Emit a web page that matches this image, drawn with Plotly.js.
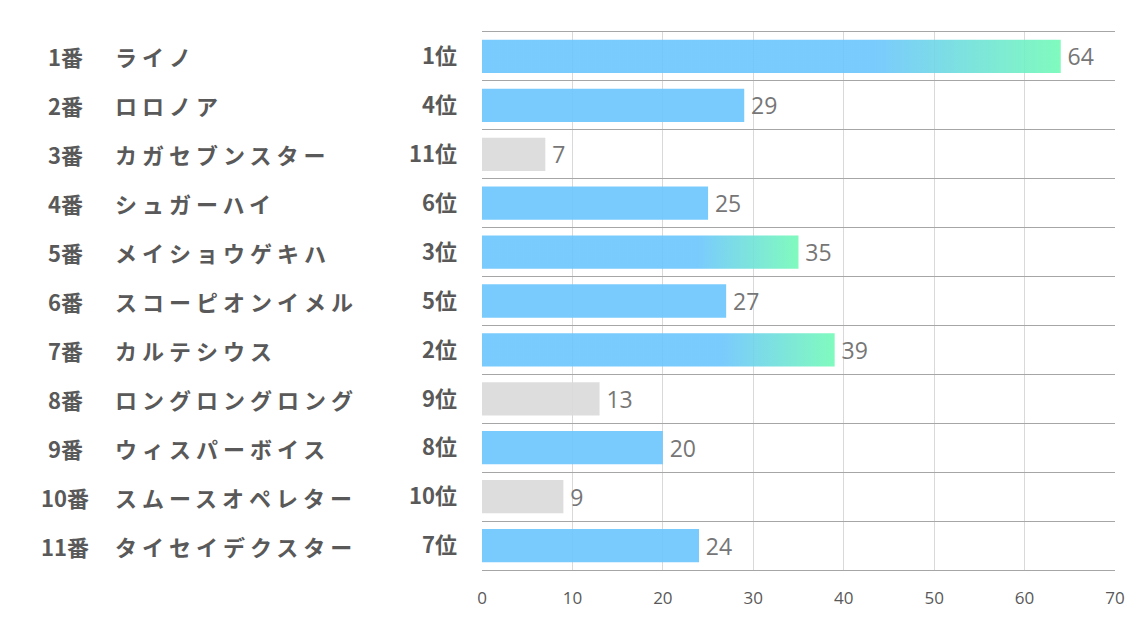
<!DOCTYPE html>
<html>
<head>
<meta charset="utf-8">
<script src="https://cdn.plot.ly/plotly-3.0.1.min.js"></script>
<style>
  body { margin: 0; background: #fff; }
  #chart { width: 1134px; height: 623px; }
</style>
</head>
<body>
<div id="chart"></div>
<script>
// 馬番・馬名・順位・値
const horseNo = ['1番', '2番', '3番', '4番', '5番', '6番', '7番', '8番', '9番', '10番', '11番'];
const horseName = ['ライノ', 'ロロノア', 'カガセブンスター', 'シュガーハイ', 'メイショウゲキハ',
  'スコーピオンイメル', 'カルテシウス', 'ロングロングロング', 'ウィスパーボイス', 'スムースオペレター', 'タイセイデクスター'];
const rankLabel = ['1位', '4位', '11位', '6位', '3位', '5位', '2位', '9位', '8位', '10位', '7位'];
const rankNum = [1, 4, 11, 6, 3, 5, 2, 9, 8, 10, 7];
const scores = [64, 29, 7, 25, 35, 27, 39, 13, 20, 9, 24];

const BLUE = 'rgb(107,197,253)';
const GRAY = 'rgb(217,217,217)';
const barColors = rankNum.map(r => r >= 9 ? GRAY : BLUE);

const jpFont = '"Noto Sans CJK JP", "Noto Sans", sans-serif';
const numFont = '"Open Sans", "Noto Sans", sans-serif';

const trace = {
  type: 'bar',
  orientation: 'h',
  x: scores,
  y: horseNo,
  width: 0.68,
  marker: { color: barColors, opacity: 0.9 },
  text: scores.map(String),
  texttemplate: '\u2009%{text}',
  textposition: 'outside',
  cliponaxis: false,
  textfont: { family: numFont, size: 23, color: '#767676' },
  hoverinfo: 'none'
};

// 左側の馬番・馬名
const annos = [];
horseNo.forEach((no, i) => {
  annos.push({
    xref: 'paper', yref: 'y', x: -0.658, y: no, xanchor: 'center',
    text: no, showarrow: false,
    font: { family: jpFont, size: 22, color: '#595959', weight: 'bold' }
  });
  annos.push({
    xref: 'paper', yref: 'y', x: -0.583, y: no, xanchor: 'left',
    text: '<span style="letter-spacing:5px">' + horseName[i] + '</span>', showarrow: false,
    font: { family: jpFont, size: 22, color: '#595959', weight: 'bold' }
  });
});

const layout = {
  width: 1134,
  height: 623,
  margin: { l: 482, r: 19, t: 32, b: 53 },
  paper_bgcolor: '#fff',
  plot_bgcolor: '#fff',
  showlegend: false,
  xaxis: {
    range: [0, 70],
    dtick: 10,
    showgrid: true,
    gridcolor: '#d9d9d9',
    gridwidth: 1,
    zeroline: false,
    showline: true,
    mirror: true,
    linecolor: '#a6a6a6',
    ticks: '',
    ticklabelstandoff: 13,
    tickfont: { family: numFont, size: 17, color: '#595959' }
  },
  yaxis: {
    type: 'category',
    autorange: 'reversed',
    tickvals: horseNo,
    ticktext: rankLabel,
    tickson: 'boundaries',
    showgrid: true,
    gridcolor: '#a6a6a6',
    zeroline: false,
    showline: false,
    ticks: '',
    ticklabelstandoff: 24,
    tickfont: { family: jpFont, size: 22, color: '#595959', weight: 'bold' }
  },
  annotations: annos
};

Plotly.newPlot('chart', [trace], layout, { displayModeBar: false, staticPlot: true }).then(function (gd) {
  // 上位3頭は青→緑のグラデーション
  const svg = gd.querySelector('.main-svg');
  const ns = 'http://www.w3.org/2000/svg';
  let defs = svg.querySelector('defs');
  if (!defs) { defs = document.createElementNS(ns, 'defs'); svg.insertBefore(defs, svg.firstChild); }
  const grad = document.createElementNS(ns, 'linearGradient');
  grad.setAttribute('id', 'topGrad');
  grad.setAttribute('x1', '0'); grad.setAttribute('x2', '1');
  grad.setAttribute('y1', '0'); grad.setAttribute('y2', '0');
  [['0', BLUE], ['0.68', BLUE], ['1', 'rgb(114,250,183)']].forEach(function (s) {
    const st = document.createElementNS(ns, 'stop');
    st.setAttribute('offset', s[0]);
    st.setAttribute('stop-color', s[1]);
    grad.appendChild(st);
  });
  defs.appendChild(grad);
  const paths = gd.querySelectorAll('.bars .point path');
  paths.forEach(function (p, i) {
    if (rankNum[i] <= 3) p.style.fill = 'url(#topGrad)';
  });
});
</script>
</body>
</html>
